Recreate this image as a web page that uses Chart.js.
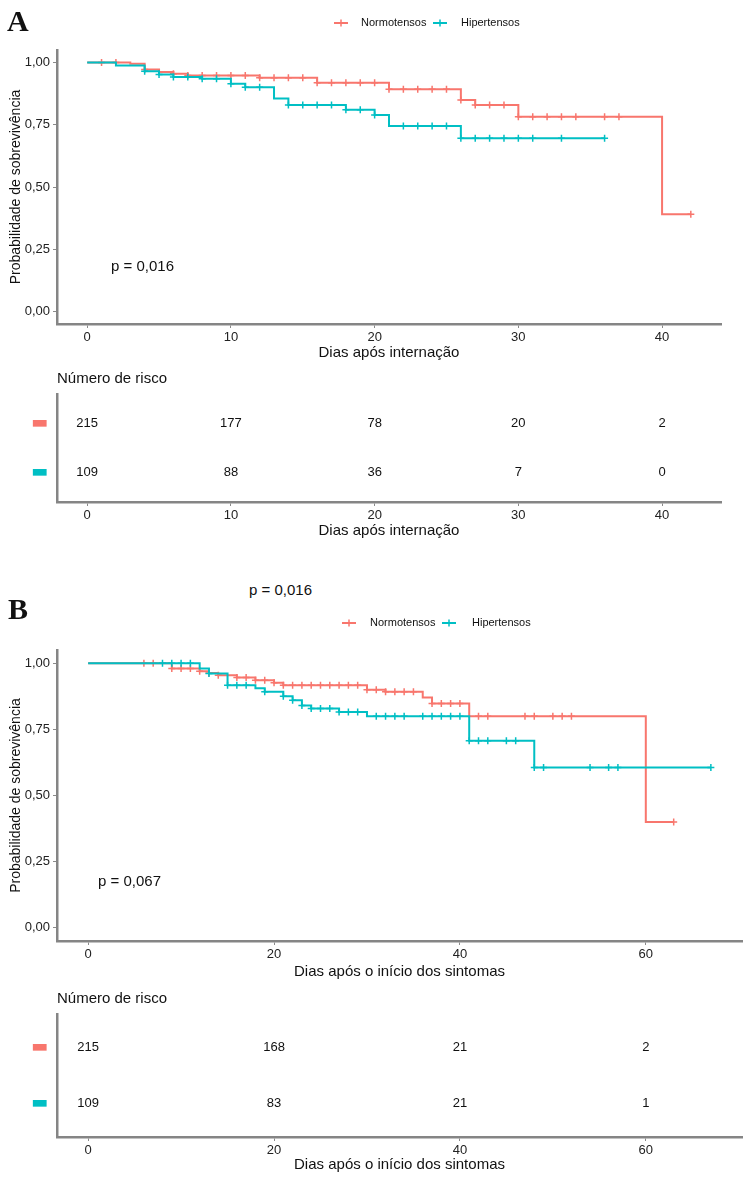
<!DOCTYPE html>
<html>
<head>
<meta charset="utf-8">
<script src="https://cdn.jsdelivr.net/npm/chart.js@4.4.1/dist/chart.umd.min.js"></script>
<style>
  body { margin: 0; background: #fff; font-family: "Liberation Sans", Arial, sans-serif; }
  #page { position: relative; width: 750px; height: 1179px; overflow: hidden; }
  .box { position: absolute; left: 0; width: 750px; }
  .txt { position: absolute; white-space: nowrap; color: #111; line-height: 1; }
  .letter { font-family: "Liberation Serif", serif; font-weight: bold; font-size: 30px; }
  .pval { font-size: 15px; }
  .rtitle { font-size: 15px; }
</style>
</head>
<body>
<div id="page">
  <div class="box" style="top:0;height:365px"><canvas id="kmA"></canvas></div>
  <div class="box" style="top:374px;height:166px"><canvas id="riskA"></canvas></div>
  <div class="box" style="top:600px;height:385px"><canvas id="kmB"></canvas></div>
  <div class="box" style="top:994px;height:181px"><canvas id="riskB"></canvas></div>

  <div class="txt letter" style="left:7px;top:6px">A</div>
  <div class="txt letter" style="left:8px;top:594px">B</div>
  <div class="txt pval" style="left:111px;top:258px">p = 0,016</div>
  <div class="txt pval" style="left:249px;top:582px">p = 0,016</div>
  <div class="txt pval" style="left:98px;top:873px">p = 0,067</div>
  <div class="txt rtitle" style="left:57px;top:370px">Número de risco</div>
  <div class="txt rtitle" style="left:57px;top:990px">Número de risco</div>
</div>
<script>
const RED = '#F8766D';
const TEAL = '#00BFC4';
const groups = ['Normotensos', 'Hipertensos'];
const yTicks = [0, 0.25, 0.5, 0.75, 1];

// A - dias após internação
const xTicksA = [0, 10, 20, 30, 40];
const normoA_t = [0, 3, 4, 5, 6, 7, 12, 16, 21, 26, 27, 30, 40, 42];
const normoA_s = [1.00, 0.995, 0.972, 0.962, 0.955, 0.948, 0.939, 0.919, 0.892, 0.849, 0.829, 0.782, 0.391, 0.391];
const normoA_cens = [1, 2, 4, 6, 7, 8, 9, 10, 11, 12, 13, 14, 15, 16, 17, 18, 19, 20, 21, 22, 23, 24, 25, 26, 27, 28, 29, 30, 31, 32, 33, 34, 36, 37, 42];
const hiperA_t = [0, 2, 4, 5, 6, 8, 10, 11, 13, 14, 18, 20, 21, 26, 36];
const hiperA_s = [1.00, 0.988, 0.965, 0.952, 0.942, 0.935, 0.915, 0.900, 0.855, 0.829, 0.810, 0.789, 0.745, 0.696, 0.696];
const hiperA_cens = [4, 5, 6, 7, 8, 9, 10, 11, 12, 14, 15, 16, 17, 18, 19, 20, 22, 23, 24, 25, 26, 27, 28, 29, 30, 31, 33, 36];
const riskA_normo = [215, 177, 78, 20, 2];
const riskA_hiper = [109, 88, 36, 7, 0];

// B - dias após o início dos sintomas
const xTicksB = [0, 20, 40, 60];
const normoB_t = [0, 9, 12, 13, 14, 16, 18, 20, 21, 30, 32, 36, 37, 41, 60, 63];
const normoB_s = [1.00, 0.980, 0.970, 0.963, 0.955, 0.946, 0.936, 0.926, 0.917, 0.900, 0.892, 0.870, 0.848, 0.800, 0.400, 0.400];
const normoB_cens = [6, 7, 9, 10, 11, 12, 13, 14, 16, 17, 18, 19, 20, 21, 22, 23, 24, 25, 26, 27, 28, 29, 30, 31, 32, 33, 34, 35, 37, 38, 39, 40, 42, 43, 47, 48, 50, 51, 52, 63];
const hiperB_t = [0, 12, 13, 15, 18, 19, 21, 22, 23, 24, 27, 30, 41, 48, 67];
const hiperB_s = [1.00, 0.980, 0.961, 0.917, 0.905, 0.892, 0.875, 0.860, 0.840, 0.829, 0.816, 0.800, 0.707, 0.606, 0.606];
const hiperB_cens = [8, 9, 10, 11, 13, 15, 16, 17, 19, 21, 22, 23, 24, 25, 26, 27, 28, 29, 31, 32, 33, 34, 36, 37, 38, 39, 40, 41, 42, 43, 45, 46, 48, 49, 54, 56, 57, 67];
const riskB_normo = [215, 168, 21, 2];
const riskB_hiper = [109, 83, 21, 1];

Chart.defaults.font.family = '"Liberation Sans", Arial, sans-serif';

function pts(ts, ss) {
  return ts.map((t, i) => ({x: t, y: ss[i]}));
}
function survAt(ts, ss, t) {
  let s = ss[0];
  ts.forEach((u, i) => { if (u <= t) s = ss[i]; });
  return s;
}
function cens(ts, ss, cs) {
  return cs.map(c => ({x: c, y: survAt(ts, ss, c)}));
}
const fmt = v => v.toFixed(2).replace('.', ',');

const AXIS_COLOR = '#858585';

function xAxis(min, max, ticks, title, h, pb) {
  return {
    type: 'linear', min: min, max: max,
    afterBuildTicks: s => { s.ticks = ticks.map(v => ({value: v})); },
    afterFit: s => { s.height = h; },
    grid: {drawOnChartArea: false, drawTicks: true, tickLength: 4, color: '#8a8a8a'},
    border: {display: true, color: AXIS_COLOR, width: 2.5},
    ticks: {color: '#222', font: {size: 13}, padding: 2, maxRotation: 0, autoSkip: false},
    title: {display: true, text: title, color: '#111', font: {size: 15}, padding: {top: 0, bottom: pb}}
  };
}

const kmLegend = {
  id: 'kmLegend',
  afterDraw(chart, args, opts) {
    if (!opts.items) return;
    const ctx = chart.ctx;
    const y = opts.y;
    ctx.save();
    ctx.font = '11px "Liberation Sans", Arial, sans-serif';
    ctx.textBaseline = 'middle';
    opts.items.forEach(it => {
      ctx.strokeStyle = it.color;
      ctx.lineWidth = 2;
      ctx.beginPath(); ctx.moveTo(it.x, y); ctx.lineTo(it.x + 14, y); ctx.stroke();
      ctx.lineWidth = 1.5;
      ctx.beginPath(); ctx.moveTo(it.x + 7, y - 3.5); ctx.lineTo(it.x + 7, y + 3.5); ctx.stroke();
      ctx.fillStyle = '#111';
      ctx.fillText(it.text, it.tx, y);
    });
    ctx.restore();
  }
};

const riskText = {
  id: 'riskText',
  afterDatasetsDraw(chart) {
    const ctx = chart.ctx;
    ctx.save();
    ctx.font = '13px "Liberation Sans", Arial, sans-serif';
    ctx.fillStyle = '#111';
    ctx.textAlign = 'center';
    ctx.textBaseline = 'middle';
    chart.data.datasets.forEach((ds, di) => {
      chart.getDatasetMeta(di).data.forEach((el, i) => {
        ctx.fillText(String(ds.counts[i]), el.x, el.y);
      });
    });
    ctx.restore();
  }
};

function kmChart(id, n, h, xr, xTicks, xTitle, padRight, xH, pb, legend) {
  const curve = (ts, ss, color, order) => ({
    data: pts(ts, ss), showLine: true, stepped: 'before', borderColor: color,
    borderWidth: 2, pointRadius: 0, fill: false, order: order
  });
  const marks = (ts, ss, cs, color, order) => ({
    data: cens(ts, ss, cs), showLine: false, borderColor: color, backgroundColor: color,
    pointStyle: 'cross', pointRadius: 3.5, borderWidth: 1.5, order: order
  });
  new Chart(document.getElementById(id), {
    type: 'scatter',
    data: {
      datasets: [
        curve(n[0], n[1], RED, 1),
        marks(n[0], n[1], n[2], RED, 1),
        curve(h[0], h[1], TEAL, 0),
        marks(h[0], h[1], h[2], TEAL, 0)
      ]
    },
    options: {
      responsive: true, maintainAspectRatio: false, animation: false,
      layout: {padding: {top: 50, right: padRight, left: 0, bottom: 0}},
      plugins: {legend: {display: false}, tooltip: {enabled: false}, kmLegend: legend},
      scales: {
        x: xAxis(xr[0], xr[1], xTicks, xTitle, xH, pb),
        y: {
          type: 'linear', min: -0.05, max: 1.05,
          afterBuildTicks: s => { s.ticks = yTicks.map(v => ({value: v})); },
          afterFit: s => { s.width = 57; },
          grid: {drawOnChartArea: false, drawTicks: true, tickLength: 4, color: '#8a8a8a'},
          border: {display: true, color: AXIS_COLOR, width: 2.5},
          ticks: {callback: v => fmt(v), color: '#222', font: {size: 13}, padding: 3},
          title: {display: true, text: 'Probabilidade de sobrevivência', color: '#111',
                  font: {size: 14}, padding: {top: 8, bottom: 0}}
        }
      }
    },
    plugins: [kmLegend]
  });
}

function riskChart(id, xTicks, normo, hiper, xr, xTitle, padTop, padRight, xH, pb) {
  const row = (counts, y) => ({
    data: xTicks.map(t => ({x: t, y: y})), counts: counts, pointRadius: 0, showLine: false
  });
  new Chart(document.getElementById(id), {
    type: 'scatter',
    data: {datasets: [row(normo, 2), row(hiper, 1)]},
    options: {
      responsive: true, maintainAspectRatio: false, animation: false,
      layout: {padding: {top: padTop, right: padRight, left: 0, bottom: 0}},
      plugins: {legend: {display: false}, tooltip: {enabled: false}},
      scales: {
        x: xAxis(xr[0], xr[1], xTicks, xTitle, xH, pb),
        y: {
          type: 'linear', min: 0.4, max: 2.6,
          afterBuildTicks: s => { s.ticks = [{value: 1}, {value: 2}]; },
          afterFit: s => { s.width = 57; },
          grid: {drawOnChartArea: false, drawTicks: false},
          border: {display: true, color: AXIS_COLOR, width: 2.5},
          ticks: {
            padding: 9, callback: () => '▬',
            color: c => (c.tick && c.tick.value === 2) ? RED : TEAL,
            font: {family: 'DejaVu Sans', size: 18}
          }
        }
      }
    },
    plugins: [riskText]
  });
}

kmChart('kmA', [normoA_t, normoA_s, normoA_cens], [hiperA_t, hiperA_s, hiperA_cens],
  [-2.1, 44.1], xTicksA, 'Dias após internação', 29, 41, 3,
  {y: 23, items: [
    {x: 334, tx: 361, color: RED, text: groups[0]},
    {x: 433, tx: 461, color: TEAL, text: groups[1]}
  ]});
riskChart('riskA', xTicksA, riskA_normo, riskA_hiper, [-2.1, 44.1], 'Dias após internação', 7, 29, 38, 0);

kmChart('kmB', [normoB_t, normoB_s, normoB_cens], [hiperB_t, hiperB_s, hiperB_cens],
  [-3.35, 70.35], xTicksB, 'Dias após o início dos sintomas', 8, 44, 4,
  {y: 23, items: [
    {x: 342, tx: 370, color: RED, text: groups[0]},
    {x: 442, tx: 472, color: TEAL, text: groups[1]}
  ]});
riskChart('riskB', xTicksB, riskB_normo, riskB_hiper, [-3.35, 70.35], 'Dias após o início dos sintomas', 8, 8, 38, 1);
</script>
</body>
</html>
